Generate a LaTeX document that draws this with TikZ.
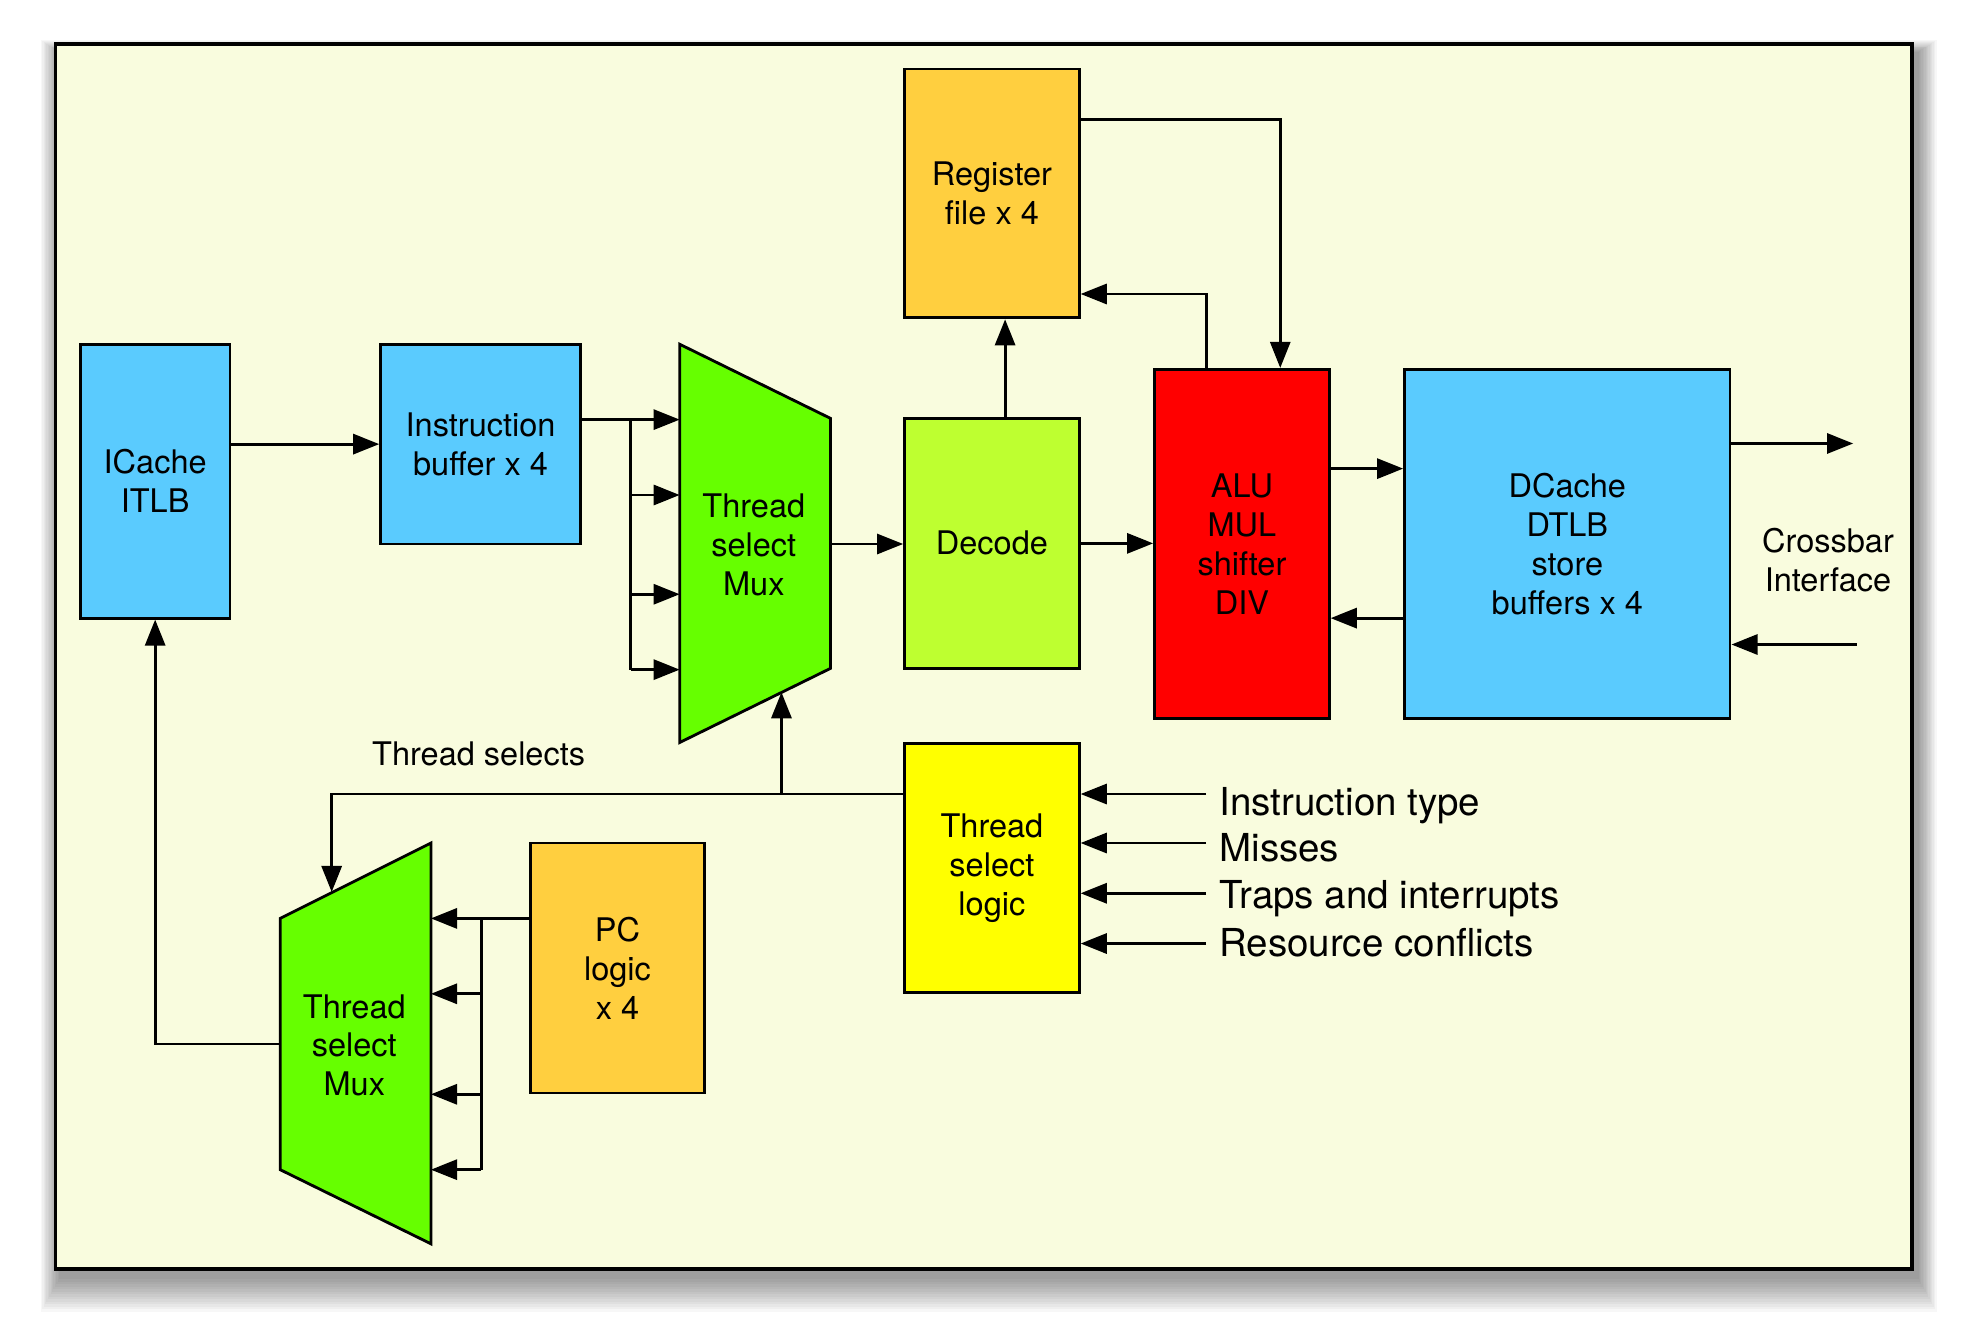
\documentclass[tikz,border=0pt]{standalone}
\usepackage{fontspec}
\setmainfont{TeX Gyre Heros}
\usetikzlibrary{arrows.meta,calc}
\definecolor{bgyel}{RGB}{249,252,222}
\definecolor{cblue}{RGB}{90,203,254}
\definecolor{cgreen}{RGB}{102,255,0}
\definecolor{cdecode}{RGB}{190,255,48}
\definecolor{corange}{RGB}{255,207,63}
\definecolor{cyellow}{RGB}{255,255,0}
\definecolor{cred}{RGB}{255,0,0}
\tikzset{
  blk/.style={draw=black, line width=0.8pt, inner sep=0pt, align=center,
    font=\fontsize{9.2}{11}\selectfont},
  lbl/.style={inner sep=0pt, align=center, font=\fontsize{9.2}{11}\selectfont},
  biglbl/.style={inner sep=0pt, anchor=base west, font=\fontsize{10.9}{13}\selectfont},
  arr/.style={line width=0.8pt, -{Triangle[length=0.26cm,width=0.2cm]}},
  ln/.style={line width=0.8pt},
  muxshape/.style={draw=black, line width=0.8pt, fill=cgreen, line join=miter}
}
\begin{document}
\begin{tikzpicture}[x=0.0125cm, y=-0.0125cm]
\useasboundingbox (0,0) rectangle (1568,1064);
\fill[white] (0,0) rectangle (1568,1064);
% shadow
\foreach \i in {1,...,14}
  \fill[black, opacity=0.03] ({48-\i*1.1},{42-\i*0.7}) rectangle ({1526+\i*1.1},{1016+\i*2});
% frame
\draw[line width=1pt, fill=bgyel] (44,35) rectangle (1522,1010);

% blocks
\node[blk, fill=cblue, minimum width=1.4875cm, minimum height=2.725cm] (ic) at (123.5,383) {ICache\\ITLB};
\node[blk, fill=cblue, minimum width=1.9875cm, minimum height=1.9875cm] (ib) at (382.5,353.5) {Instruction\\buffer x 4};
\node[blk, fill=cdecode, minimum width=1.7375cm, minimum height=2.4875cm] (dec) at (789.5,432.5) {Decode};
\node[blk, fill=corange, minimum width=1.7375cm, minimum height=2.475cm] (rf) at (789.5,154) {Register\\file x 4};
\node[blk, fill=cred, minimum width=1.7375cm, minimum height=3.475cm] (alu) at (988.5,433) {ALU\\MUL\\shifter\\DIV};
\node[blk, fill=cblue, minimum width=3.2375cm, minimum height=3.475cm] (dc) at (1247.5,433) {DCache\\DTLB\\store\\buffers x 4};
\node[blk, fill=cyellow, minimum width=1.7375cm, minimum height=2.475cm] (tsl) at (789.5,691) {Thread\\select\\logic};
\node[blk, fill=corange, minimum width=1.7375cm, minimum height=2.4875cm] (pc) at (491.5,770.5) {PC\\logic\\x 4};

% upper mux
\draw[muxshape] (541,274) -- (661,333) -- (661,532) -- (541,591) -- cycle;
\node[lbl] (mux1) at (600,434) {Thread\\select\\Mux};
% lower mux
\draw[muxshape] (223,731) -- (343,671) -- (343,990) -- (223,931) -- cycle;
\node[lbl] (mux2) at (282,832) {Thread\\select\\Mux};

% coordinates
\coordinate (m1i1) at (541,334);
\coordinate (m1i2) at (541,394);
\coordinate (m1i3) at (541,473);
\coordinate (m1i4) at (541,533);
\coordinate (br1) at (502,334);
\coordinate (m1o) at (661,433);
\coordinate (m1b) at (622,551);
\coordinate (m2i1) at (343,731);
\coordinate (m2i2) at (343,791);
\coordinate (m2i3) at (343,871);
\coordinate (m2i4) at (343,931);
\coordinate (br2) at (383,731);
\coordinate (m2o) at (223,831);
\coordinate (m2t) at (264,710);
\coordinate (c1) at (1019,95);
\coordinate (c2) at (960,234);
\coordinate (c3) at (1088,373);
\coordinate (c3b) at (1088,492);
\coordinate (c4) at (622,632);
\coordinate (c5) at (264,632);
\coordinate (xout) at (1475,353);
\coordinate (xin) at (1478,513);
\coordinate (in1) at (960,632);
\coordinate (in2) at (960,671);
\coordinate (in3) at (960,711);
\coordinate (in4) at (960,751);

% connectors
\draw[arr] (ic.east |- ib.west) -- (ib.west);
\draw[ln] (ib.east |- m1i1) -- (br1) -- (br1 |- m1i4);
\foreach \k in {1,2,3,4} \draw[arr] (br1 |- m1i\k) -- (m1i\k);
\draw[arr] (m1o) -- (dec.west |- m1o);
\draw[arr] ($(dec.north)+(10.5,0)$) -- ($(rf.south)+(10.5,0)$);
\draw[arr] (rf.east |- c1) -- (c1) -- (c1 |- alu.north);
\draw[arr] (c2 |- alu.north) -- (c2) -- (rf.east |- c2);
\draw[arr] (dec.east) -- (alu.west |- dec.east);
\draw[arr] (alu.east |- c3) -- (dc.west |- c3);
\draw[arr] (dc.west |- c3b) -- (alu.east |- c3b);
\draw[arr] (dc.east |- xout) -- (xout);
\draw[arr] (xin) -- (dc.east |- xin);
\node[lbl] (xbar) at (1455,446) {Crossbar\\Interface};

\foreach \k in {1,2,3,4} \draw[arr] (in\k) -- (tsl.east |- in\k);
\node[biglbl] (l1) at (970,649) {Instruction type};
\node[biglbl] (l2) at (970,686) {Misses};
\node[biglbl] (l3) at (970,723) {Traps and interrupts};
\node[biglbl] (l4) at (970,761) {Resource conflicts};

\draw[arr] (tsl.west |- c4) -- (c4) -- (m1b);
\draw[arr] (c4) -- (c5) -- (m2t);
\node[lbl] (tsel) at (381,600) {Thread selects};

\draw[ln] (pc.west |- m2i1) -- (br2) -- (br2 |- m2i4);
\foreach \k in {1,2,3,4} \draw[arr] (br2 |- m2i\k) -- (m2i\k);
\draw[arr] (m2o) -- (ic.south |- m2o) -- (ic.south);
\end{tikzpicture}
\end{document}
